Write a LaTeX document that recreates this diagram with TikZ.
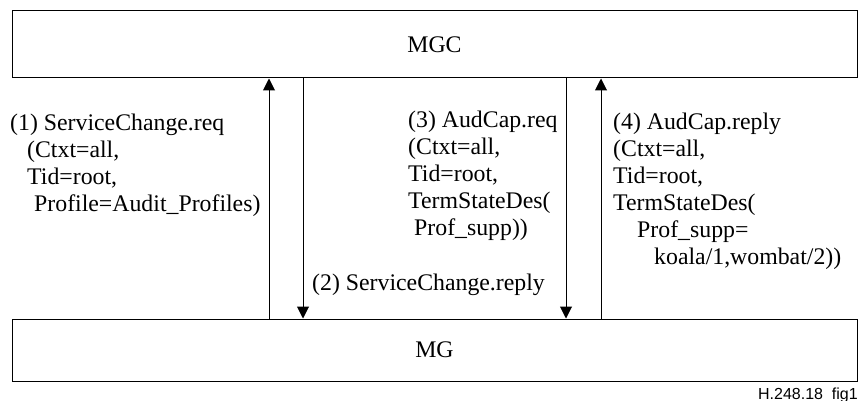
\documentclass[tikz,border=0pt]{standalone}
\usepackage{fontspec}
\setmainfont{Liberation Serif}
\newfontfamily\figlabelfont{Liberation Sans}
\usetikzlibrary{arrows.meta}
\tikzset{
	entity/.style={draw, line width=1pt, minimum width=845pt, inner sep=0pt, font=\fontsize{23.8}{27}\selectfont},
	msg/.style={line width=1pt, -{Triangle[length=12pt,width=12pt]}},
	msgtext/.style={anchor=base west, align=left, inner sep=0pt, font=\fontsize{23.8}{27}\selectfont},
}
\begin{document}
\begin{tikzpicture}[x=1pt, y=-1pt]
		\useasboundingbox ( 0, 0 ) rectangle ( 859, 401 );

		% MGC и MG
		\node [entity, minimum height=67pt] (mgc) at ( 434.5, 44.5 ) {MGC};
		\node [entity, minimum height=62pt] (mg) at ( 434.5, 350 ) {MG};

		% положения стрелок
		\coordinate (a1) at ( 269, 0 );
		\coordinate (a2) at ( 303, 0 );
		\coordinate (a3) at ( 566, 0 );
		\coordinate (a4) at ( 601, 0 );

		% сообщения
		\draw [msg] (mg.north -| a1) -- (mgc.south -| a1);
		\draw [msg] (mgc.south -| a2) -- (mg.north -| a2);
		\draw [msg] (mgc.south -| a3) -- (mg.north -| a3);
		\draw [msg] (mg.north -| a4) -- (mgc.south -| a4);

		% подписи (base = последняя строка)
		\node [msgtext] (req1) at ( 10, 211 ) {(1) ServiceChange.req\\\hspace*{17pt}(Ctxt=all,\\\hspace*{17pt}Tid=root,\\\hspace*{24pt}Profile=Audit\_Profiles)};
		\node [msgtext] (rep2) at ( 312, 290 ) {(2) ServiceChange.reply};
		\node [msgtext] (req3) at ( 408, 235 ) {(3) AudCap.req\\(Ctxt=all,\\Tid=root,\\TermStateDes(\\\hspace*{6pt}Prof\_supp))};
		\node [msgtext] (rep4) at ( 613, 264 ) {(4) AudCap.reply\\(Ctxt=all,\\Tid=root,\\TermStateDes(\\\hspace*{24pt}Prof\_supp=\\\hspace*{41pt}koala/1,wombat/2))};

		\node [anchor=base east, inner sep=0pt, font=\figlabelfont\fontsize{16}{18}\selectfont] (fig) at ( 858, 399 ) {H.248.18\ \ fig1};
	\end{tikzpicture}
\end{document}
